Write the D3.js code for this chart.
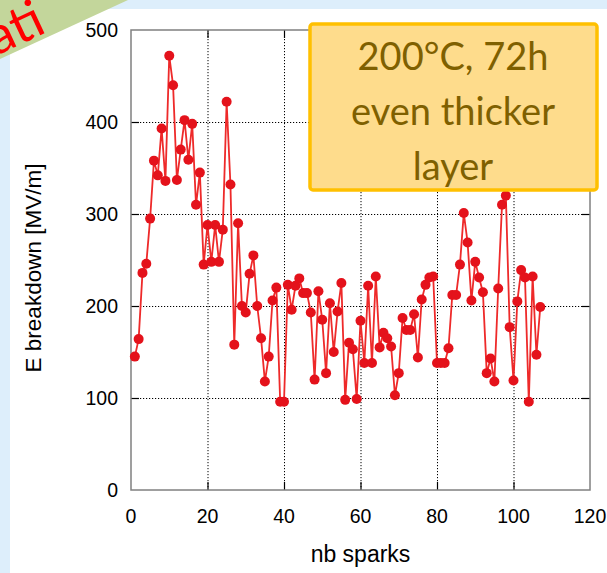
<!DOCTYPE html>
<html>
<head>
<meta charset="utf-8">
<script src="https://cdn.jsdelivr.net/npm/d3@7"></script>
<style>
  html, body { margin: 0; padding: 0; background: #ddeefb; }
  svg { display: block; }
</style>
</head>
<body>
<svg id="chart" width="607" height="573"></svg>
<script>
// Spark number and breakdown field for each spark
const sparkNumber = [
  1, 2, 3, 4, 5, 6, 7, 8, 9, 10, 11, 12, 13, 14, 15, 16, 17, 18, 19, 20,
  21, 22, 23, 24, 25, 26, 27, 28, 29, 30, 31, 32, 33, 34, 35, 36, 37, 38, 39, 40,
  41, 42, 43, 44, 45, 46, 47, 48, 49, 50, 51, 52, 53, 54, 55, 56, 57, 58, 59, 60,
  61, 62, 63, 64, 65, 66, 67, 68, 69, 70, 71, 72, 73, 74, 75, 76, 77, 78, 79, 80,
  81, 82, 83, 84, 85, 86, 87, 88, 89, 90, 91, 92, 93, 94, 95, 96, 97, 98, 99, 100,
  101, 102, 103, 104, 105, 106, 107
];
const breakdownField = [
  145, 164, 236, 246, 295, 358, 342, 393, 336, 472, 440, 337, 370, 402, 359, 398, 310, 345, 245, 288,
  248, 288, 248, 283, 422, 332, 158, 290, 200, 193, 235, 255, 200, 165, 118, 145, 206, 220, 96, 96,
  223, 196, 222, 230, 214, 214, 193, 120, 216, 185, 127, 203, 150, 194, 225, 98, 160, 153, 99, 184,
  138, 222, 138, 232, 155, 171, 165, 156, 103, 127, 187, 174, 174, 191, 144, 207, 223, 231, 232, 138,
  138, 138, 154, 212, 212, 245, 301, 269, 206, 248, 231, 215, 127, 143, 118, 219, 310, 320, 177, 119,
  205, 239, 231, 96, 232, 147, 199
];

const xTicks = [0, 20, 40, 60, 80, 100, 120];
const yTicks = [0, 100, 200, 300, 400, 500];
const xTitle = "nb sparks";
const yTitle = "E breakdown [MV/m]";
const noteLines = ["200°C, 72h", "even thicker", "layer"];
const bannerText = "ati";

const svg = d3.select("#chart");

// slide background: pale blue margin with a white panel
svg.append("rect").attr("x", 0).attr("y", 0).attr("width", 607).attr("height", 573).attr("fill", "#ddeefb");
svg.append("rect").attr("x", 10).attr("y", 9).attr("width", 597).attr("height", 564).attr("fill", "#ffffff");

// corner ribbon, its caption running off the slide corner
const ribbonClip = svg.append("clipPath").attr("id", "ribbon-clip");
ribbonClip.append("rect").attr("x", 0).attr("y", 0).attr("width", 140).attr("height", 80);
const ribbon = svg.append("g").attr("clip-path", "url(#ribbon-clip)");
ribbon.append("polygon").attr("points", "0,0 128,0 0,59").attr("fill", "#c3d69b");
ribbon.append("text")
  .attr("transform", "translate(-4,56) rotate(-25)")
  .attr("font-family", "Lato, 'Open Sans', sans-serif")
  .attr("font-size", 52)
  .attr("fill", "#ff0000")
  .text(bannerText);

const plot = { left: 131, right: 590, top: 30, bottom: 490 };

const x = d3.scaleLinear().domain([0, 120]).range([plot.left, plot.right]);
const y = d3.scaleLinear().domain([0, 500]).range([plot.bottom, plot.top]);

// dotted grid
const grid = svg.append("g").attr("stroke", "#000").attr("stroke-width", 1).attr("stroke-dasharray", "1.2,1.8");
grid.selectAll("line.gx").data(xTicks.filter(d => d > 0 && d < 120)).join("line")
  .attr("x1", d => x(d) + 0.5).attr("x2", d => x(d) + 0.5)
  .attr("y1", plot.top).attr("y2", plot.bottom);
grid.selectAll("line.gy").data(yTicks.filter(d => d > 0 && d < 500)).join("line")
  .attr("x1", plot.left).attr("x2", plot.right)
  .attr("y1", d => Math.round(y(d)) + 0.5).attr("y2", d => Math.round(y(d)) + 0.5);

// inward ticks on all four sides
const tickLen = 8;
const ticks = svg.append("g").attr("stroke", "#000").attr("stroke-width", 1.2);
yTicks.filter(d => d > 0 && d < 500).forEach(d => {
  const yy = Math.round(y(d)) + 0.5;
  ticks.append("line").attr("x1", plot.left).attr("x2", plot.left + tickLen).attr("y1", yy).attr("y2", yy);
  ticks.append("line").attr("x1", plot.right - tickLen).attr("x2", plot.right).attr("y1", yy).attr("y2", yy);
});
xTicks.filter(d => d > 0 && d < 120).forEach(d => {
  const xx = x(d) + 0.5;
  ticks.append("line").attr("x1", xx).attr("x2", xx).attr("y1", plot.bottom).attr("y2", plot.bottom - tickLen);
  ticks.append("line").attr("x1", xx).attr("x2", xx).attr("y1", plot.top).attr("y2", plot.top + tickLen);
});

// frame
svg.append("rect")
  .attr("x", plot.left).attr("y", plot.top)
  .attr("width", plot.right - plot.left).attr("height", plot.bottom - plot.top)
  .attr("fill", "none").attr("stroke", "#808080").attr("stroke-width", 1.5);

// series
const pts = sparkNumber.map((n, i) => [n, breakdownField[i]]);
svg.append("path")
  .datum(pts)
  .attr("fill", "none")
  .attr("stroke", "#ee2a2a")
  .attr("stroke-width", 1.8)
  .attr("d", d3.line().x(d => x(d[0])).y(d => y(d[1])));
svg.append("g").selectAll("circle").data(pts).join("circle")
  .attr("cx", d => x(d[0])).attr("cy", d => y(d[1]))
  .attr("r", 5)
  .attr("fill", "#e4121b");

// axis labels
const axisFont = "'Liberation Sans', Arial, sans-serif";
svg.append("g").selectAll("text").data(yTicks).join("text")
  .attr("x", 118).attr("y", d => y(d) + 7)
  .attr("text-anchor", "end")
  .attr("font-family", axisFont).attr("font-size", 19.5)
  .attr("fill", "#000")
  .text(d => d);
svg.append("g").selectAll("text").data(xTicks).join("text")
  .attr("x", d => x(d)).attr("y", 523)
  .attr("text-anchor", "middle")
  .attr("font-family", axisFont).attr("font-size", 19.5)
  .attr("fill", "#000")
  .text(d => d);
svg.append("text")
  .attr("x", (plot.left + plot.right) / 2).attr("y", 562)
  .attr("text-anchor", "middle")
  .attr("font-family", axisFont).attr("font-size", 23)
  .attr("fill", "#000")
  .text(xTitle);
svg.append("text")
  .attr("transform", `translate(41,${(plot.top + plot.bottom) / 2 + 8}) rotate(-90)`)
  .attr("text-anchor", "middle")
  .attr("font-family", axisFont).attr("font-size", 22.5)
  .attr("fill", "#000")
  .text(yTitle);

// note box
const box = svg.append("g");
box.append("rect")
  .attr("x", 310).attr("y", 24).attr("width", 287).attr("height", 166)
  .attr("rx", 3)
  .attr("fill", "#fedc8c")
  .attr("stroke", "#ffc000").attr("stroke-width", 3.5);
box.selectAll("text").data(noteLines).join("text")
  .attr("x", 453).attr("y", (d, i) => 70 + i * 55)
  .attr("text-anchor", "middle")
  .attr("font-family", "Lato, 'Open Sans', sans-serif")
  .attr("font-size", 38)
  .attr("fill", "#7f6000")
  .text(d => d);
</script>
</body>
</html>
